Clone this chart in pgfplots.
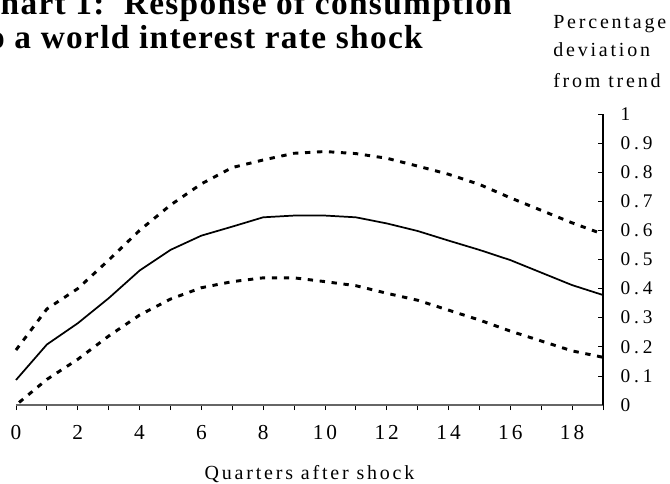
\documentclass[border=0pt]{standalone}
\usepackage{fontspec}
\setmainfont{Liberation Serif}[LetterSpace=14]
\newfontfamily\titlefont{Liberation Serif}[LetterSpace=4]
\newfontfamily\yfont{Liberation Serif}[LetterSpace=20]
\usepackage{pgfplots}
\pgfplotsset{compat=1.18}
\begin{document}
\begin{tikzpicture}
\begin{axis}[
  at={(0,0)}, anchor=south west,
  scale only axis, width=440.25pt, height=218.25pt,
  xmin=0, xmax=19, ymin=0, ymax=1,
  axis x line*=bottom, axis y line*=right,
  x axis line style={draw=gray!80!black, line width=0.8pt, -},
  y axis line style={draw=black, line width=0.8pt, -},
  xtick={0,2,...,18}, minor xtick={1,3,...,19},
  ytick={0,0.1,...,1.01},
  tick align=outside,
  major tick length=3.75pt, minor tick length=3.75pt,
  xtick style={draw=black, line width=0.6pt},
  ytick style={draw=black, line width=0.6pt, xshift=-3.75pt},
  /pgf/number format/assume math mode=true,
  /pgf/number format/fixed,
  xticklabel style={font=\fontsize{16}{16}\selectfont, yshift=-8pt},
  yticklabel style={font=\yfont\fontsize{14.5}{14.5}\selectfont, anchor=west, xshift=6pt},
  yticklabel={\pgfmathprintnumber[fixed,precision=1]{\tick}},
  xlabel={Quarters after shock},
  xlabel style={font=\fontsize{15}{15}\selectfont, yshift=-12pt},
  clip=false,
]
\addplot[black, line width=1.3pt] coordinates {
(0,0.086)(1,0.208)(2,0.281)(3,0.367)(4,0.462)(5,0.533)(6,0.582)(7,0.613)(8,0.645)(9,0.651)
(10,0.651)(11,0.645)(12,0.624)(13,0.598)(14,0.565)(15,0.533)(16,0.498)(17,0.455)(18,0.412)(19,0.378)};
\addplot[black, line width=2.2pt, dash pattern=on 4pt off 5pt] coordinates {
(0,0.189)(1,0.33)(2,0.40)(3,0.498)(4,0.60)(5,0.687)(6,0.76)(7,0.816)(8,0.842)(9,0.865)
(10,0.871)(11,0.864)(12,0.848)(13,0.821)(14,0.793)(15,0.758)(16,0.712)(17,0.669)(18,0.626)(19,0.587)};
\addplot[black, line width=2.2pt, dash pattern=on 4pt off 5pt, dash phase=6pt] coordinates {
(0,0.0)(1,0.088)(2,0.157)(3,0.237)(4,0.309)(5,0.364)(6,0.403)(7,0.424)(8,0.437)(9,0.437)
(10,0.424)(11,0.41)(12,0.384)(13,0.36)(14,0.326)(15,0.292)(16,0.254)(17,0.22)(18,0.186)(19,0.164)};
\end{axis}
\node[anchor=base east, font=\titlefont\bfseries\fontsize{25}{25}\selectfont, inner sep=0pt] at (372pt,292.5pt) {Chart 1:\ \ Response of consumption};
\node[anchor=base east, font=\titlefont\bfseries\fontsize{25}{25}\selectfont, inner sep=0pt] at (305.25pt,267pt) {to a world interest rate shock};
\node[anchor=base west, font=\fontsize{15}{15}\selectfont, inner sep=0pt] at (402.75pt,282pt) {Percentage};
\node[anchor=base west, font=\fontsize{15}{15}\selectfont, inner sep=0pt] at (402.75pt,261pt) {deviation};
\node[anchor=base west, font=\fontsize{15}{15}\selectfont, inner sep=0pt] at (402.75pt,237.75pt) {from trend};
\pgfresetboundingbox
\useasboundingbox (-12pt,-58.5pt) rectangle (490.5pt,303.75pt);
\end{tikzpicture}
\end{document}
